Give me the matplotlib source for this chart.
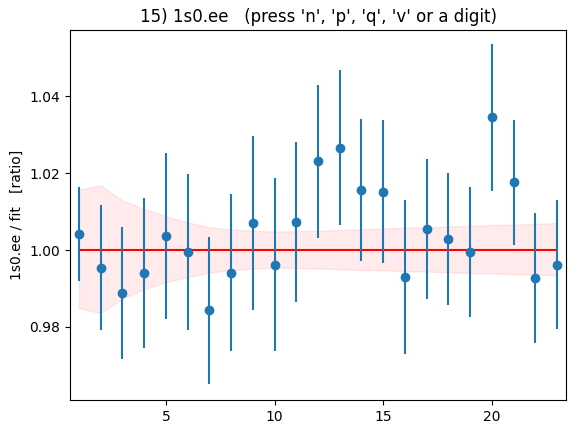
import numpy as np
import matplotlib
matplotlib.use("Agg")
import matplotlib.pyplot as plt

x = np.arange(1, 24)

ratio = [1.0042, 0.9954, 0.9888, 0.9941, 1.0036, 0.9995, 0.9843, 0.9941,
         1.0070, 0.9962, 1.0073, 1.0231, 1.0266, 1.0156, 1.0152, 0.9929,
         1.0055, 1.0028, 0.9995, 1.0345, 1.0176, 0.9926, 0.9962]
err = [0.0122, 0.0162, 0.0171, 0.0195, 0.0216, 0.0203, 0.0192, 0.0204,
       0.0227, 0.0224, 0.0207, 0.0199, 0.0202, 0.0184, 0.0187, 0.0200,
       0.0182, 0.0172, 0.0168, 0.0191, 0.0163, 0.0169, 0.0167]

band_hi = [1.0157, 1.0168, 1.0129, 1.0107, 1.0088, 1.0072, 1.0059, 1.0053,
           1.0050, 1.0048, 1.0049, 1.0050, 1.0052, 1.0054, 1.0056, 1.0058,
           1.0059, 1.0061, 1.0063, 1.0065, 1.0066, 1.0068, 1.0070]
band_lo = [0.9849, 0.9836, 0.9874, 0.9898, 0.9916, 0.9930, 0.9941, 0.9948,
           0.9952, 0.9954, 0.9953, 0.9952, 0.9950, 0.9948, 0.9947, 0.9945,
           0.9944, 0.9942, 0.9940, 0.9939, 0.9937, 0.9936, 0.9934]

fig = plt.figure(figsize=(5.79, 4.33), dpi=100)
ax = fig.add_axes([70 / 579, 33 / 433, 496 / 579, 370 / 433])

ax.fill_between(x, band_lo, band_hi, color="red", alpha=0.08)
ax.plot(x, np.ones(len(x)), color="red")
ax.errorbar(x, ratio, yerr=err, fmt="o", color="C0")

ax.set_xlim(0.59, 23.41)
ax.set_ylim(0.9610, 1.0572)
ax.set_xticks([5, 10, 15, 20])
ax.set_yticks([0.98, 1.00, 1.02, 1.04])
ax.set_ylabel("1s0.ee / fit   [ratio]")
ax.set_title("15) 1s0.ee   (press 'n', 'p', 'q', 'v' or a digit)")

fig.savefig("out.png", dpi=100)
